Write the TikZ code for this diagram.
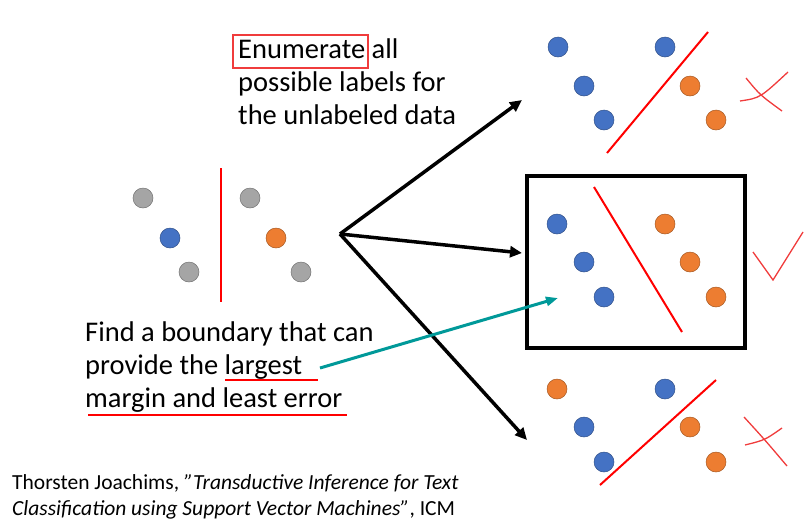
\documentclass[tikz,border=0pt]{standalone}
\usepackage{fontspec}
\setmainfont{Carlito}
\usetikzlibrary{arrows.meta}
\definecolor{dotblue}{RGB}{68,114,196}
\definecolor{dotorange}{RGB}{237,125,49}
\definecolor{dotgray}{RGB}{165,165,165}
\definecolor{teal}{RGB}{0,153,153}
\definecolor{markred}{RGB}{240,60,60}
\tikzset{
  dot/.style={circle,minimum size=20pt,inner sep=0pt,draw=#1!70!black,fill=#1,line width=0.5pt},
  bound/.style={red,line width=2pt},
  big/.style={font=\fontsize{28.5}{33}\selectfont,align=left,inner sep=0pt,anchor=base west},
}
\begin{document}
\begin{tikzpicture}[x=1pt,y=-1pt]
    \useasboundingbox (0,0) rectangle (805,528);

    % Left data
    \node[dot=dotgray]   (g1) at (143,198) {};
    \node[dot=dotgray]   (g2) at (250,198) {};
    \node[dot=dotblue]   (l1) at (170,238) {};
    \node[dot=dotorange] (l2) at (276,238) {};
    \node[dot=dotgray]   (g3) at (189,272) {};
    \node[dot=dotgray]   (g4) at (301,272) {};
    \draw[bound] (221,168) -- (221,302);

    % Top labelling
    \node[dot=dotblue]   at (558,47) {};
    \node[dot=dotblue]   at (665,47) {};
    \node[dot=dotblue]   at (584,86) {};
    \node[dot=dotblue]   at (604,120) {};
    \node[dot=dotorange] at (690,86) {};
    \node[dot=dotorange] at (716,120) {};
    \draw[bound] (708,32) -- (607,153);
    \draw[markred,line width=1.3pt] (740,101) .. controls (760,98) .. (788,72);
    \draw[markred,line width=1.3pt] (746,78) .. controls (760,95) .. (782,111);

    % Middle labelling
    \draw[line width=4pt] (527,176) rectangle (745,348);
    \node[dot=dotblue]   at (557,224) {};
    \node[dot=dotblue]   at (584,262) {};
    \node[dot=dotblue]   (b3) at (604,297) {};
    \node[dot=dotorange] at (665,224) {};
    \node[dot=dotorange] at (690,262) {};
    \node[dot=dotorange] at (716,297) {};
    \draw[bound] (594,187) -- (682,332);
    \draw[markred,line width=1.3pt] (753,252) -- (773,280) -- (803,232);

    % Bottom labelling
    \node[dot=dotorange] at (557,389) {};
    \node[dot=dotblue]   at (665,389) {};
    \node[dot=dotblue]   at (584,427) {};
    \node[dot=dotblue]   at (604,462) {};
    \node[dot=dotorange] at (690,427) {};
    \node[dot=dotorange] at (716,462) {};
    \draw[bound] (600,485) -- (716,380);
    \draw[markred,line width=1.3pt] (745,445) .. controls (765,440) .. (782,428);
    \draw[markred,line width=1.3pt] (744,417) .. controls (765,440) .. (787,466);

    % Arrows
    \coordinate (src) at (340,234);
    \coordinate (top) at (522,100);
    \coordinate (mid) at (522,253);
    \coordinate (bot) at (527,440);
    \draw[-{Triangle[length=12pt,width=11pt]},line width=3.5pt] (src) -- (top);
    \draw[-{Triangle[length=12pt,width=11pt]},line width=3.5pt] (src) -- (mid);
    \draw[-{Triangle[length=12pt,width=11pt]},line width=3.5pt] (src) -- (bot);

    % Texts
    \node[big] (enum1) at (238,58) {Enumerate all};
    \node[big] (enum2) at (238,91) {possible labels for};
    \node[big] (enum3) at (238,124) {the unlabeled data};
    \draw[markred,line width=1.5pt] (233,35) rectangle (368,68);

    \node[big] (find1) at (85,341) {Find a boundary that can};
    \node[big] (find2) at (85,374) {provide the largest};
    \node[big] (find3) at (85,407) {margin and least error};
    \draw[red,line width=1.5pt] (225,380) -- (318,380);
    \draw[red,line width=1.5pt] (88,415) -- (347,415);
    \draw[teal,-{Triangle[length=12pt,width=9pt]},line width=3pt] (320,368) -- (558,298);

    \node[anchor=base west,inner sep=0pt,font=\fontsize{21.5}{26}\selectfont] (cite1) at (12,489)
      {Thorsten Joachims, \textit{”Transductive Inference for Text}};
    \node[anchor=base west,inner sep=0pt,font=\fontsize{21.5}{26}\selectfont] (cite2) at (12,515)
      {\textit{Classification using Support Vector Machines”}, ICM};
\end{tikzpicture}
\end{document}
